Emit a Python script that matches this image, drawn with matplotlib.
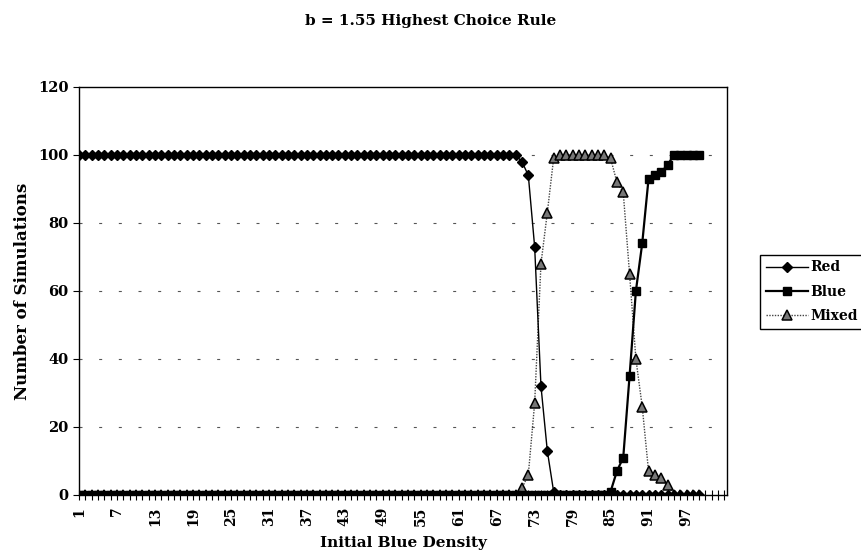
import matplotlib
matplotlib.use('Agg')
import matplotlib.pyplot as plt

# categories 1..99 (axis runs on to 103)
density = list(range(1, 100))
red = [100] * 70 + [98, 94, 73, 32, 13, 1] + [0] * 23
blue = [0] * 84 + [1, 7, 11, 35, 60, 74, 93, 94, 95, 97] + [100] * 5
mixed = [0] * 70 + [2, 6, 27, 68, 83, 99] + [100] * 8 + \
        [99, 92, 89, 65, 40, 26, 7, 6, 5, 3] + [0] * 5
n_cats = 103
label_every = 6
y_ticks = [0, 20, 40, 60, 80, 100, 120]

plt.rcParams['font.family'] = ['DejaVu Serif']
plt.rcParams['font.weight'] = 'bold'

fig = plt.figure(figsize=(8.62, 5.54), dpi=100)
ax = fig.add_axes([0.0917, 0.1065, 0.7517, 0.7365])

ax.plot(density, red, color='black', lw=1.0, marker='D', ms=5.5,
        mfc='black', mec='black', label='Red', zorder=3)
ax.plot(density, blue, color='black', lw=1.6, marker='s', ms=6,
        mfc='black', mec='black', label='Blue', zorder=4)
ax.plot(density, mixed, color='#444444', lw=1.0, ls=(0, (1, 1)), marker='^', ms=6.5,
        mfc='#777777', mec='black', mew=1.1, label='Mixed', zorder=2)

ax.set_xlim(1, n_cats + 0.4)
ax.set_ylim(0, 120)

ticks = list(range(1, n_cats + 1))
labels = [str(t) if (t - 1) % label_every == 0 and t < 100 else '' for t in ticks]
ax.set_xticks(ticks, labels=labels, rotation=90, fontsize=10)
ax.tick_params(axis='x', direction='inout', length=7, width=0.8, pad=5)
ax.set_yticks(y_ticks)
ax.tick_params(axis='y', direction='out', length=4, labelsize=10.5)

# sparse dashed gridlines like the scan
for v in y_ticks[1:-1]:
    ax.axhline(v, color='#555555', lw=0.8, ls=(0, (2.7, 15)), zorder=1)

for s in ax.spines.values():
    s.set_linewidth(1.0)
    s.set_color('black')

ax.set_xlabel('Initial Blue Density', fontsize=11, fontweight='bold', labelpad=7)
ax.set_ylabel('Number of Simulations', fontsize=12, fontweight='bold', labelpad=5)
fig.suptitle('b = 1.55 Highest Choice Rule', fontsize=11, fontweight='bold', y=0.975)

leg = fig.legend(loc='upper left', bbox_to_anchor=(0.882, 0.54), fontsize=10,
                 frameon=True, fancybox=False, edgecolor='black', framealpha=1,
                 handlelength=3.0, handletextpad=0.2, borderpad=0.4,
                 labelspacing=0.75, borderaxespad=0)
leg.get_frame().set_linewidth(1.0)

fig.savefig('out.png', dpi=100)
